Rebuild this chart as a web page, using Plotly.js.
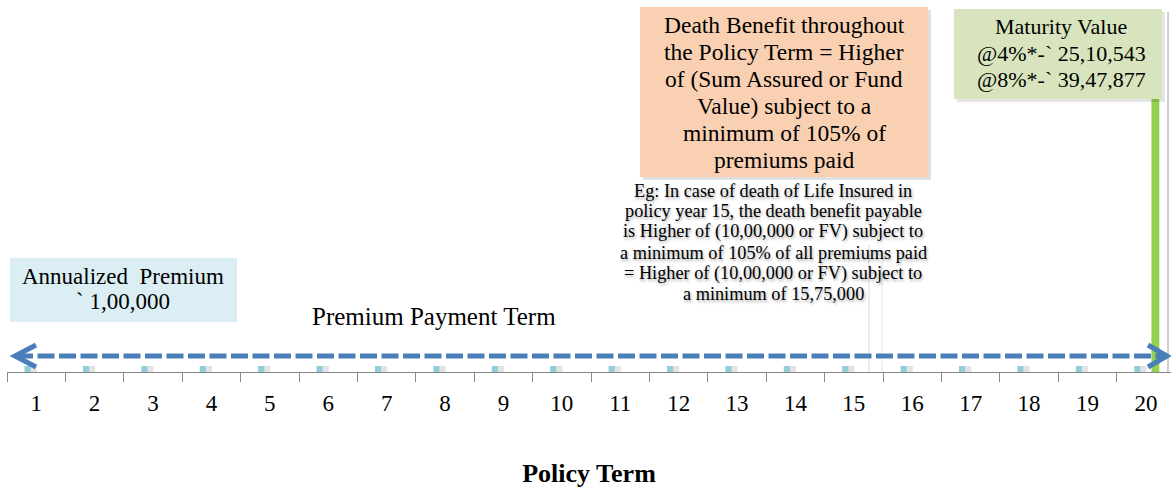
<!DOCTYPE html>
<html>
<head>
<meta charset="utf-8">
<script src="https://cdn.plot.ly/plotly-3.0.1.min.js"></script>
<style>html,body{margin:0;padding:0;background:#fff;}#chart{width:1171px;height:488px;}</style>
</head>
<body>
<div id="chart"></div>
<script>
// ---- data ----
var policyYears = ['1','2','3','4','5','6','7','8','9','10','11','12','13','14','15','16','17','18','19','20'];
var annualPremium = [100000,100000,100000,100000,100000,100000,100000,100000,100000,100000,100000,100000,100000,100000,100000,100000,100000,100000,100000,100000];
var maturityYears = ['20'];
var maturityValue = [6000000];
var axisTitle = 'Policy Term';
var premiumLabel = ['Annualized  Premium', '` 1,00,000'];
var ppTermLabel = 'Premium Payment Term';
var deathBenefitLabel = ['Death Benefit throughout','the Policy Term = Higher','of (Sum Assured or Fund','Value) subject to a','minimum of 105% of','premiums paid'];
var exampleLabel = ['Eg: In case of death of Life Insured in','policy year 15, the death benefit payable','is Higher of (10,00,000 or FV) subject to','a minimum of 105% of all premiums paid','= Higher of (10,00,000 or FV) subject to','a minimum of 15,75,000'];
var maturityLabel = ['Maturity Value','@4%*-` 25,10,543','@8%*-` 39,47,877'];

// ---- geometry helpers (pixel -> paper) ----
var L = 7, R = 0, T = 10, B = 116, WW = 1171, HH = 488;
var PW = WW - L - R, PH = HH - T - B, PB = HH - B;
function px(x){ return (x - L) / PW; }
function py(y){ return (PB - y) / PH; }
var SERIF = 'Liberation Serif';

var annotations = [];
function lines(arr, cx, firstBase, step, size, extra){
  arr.forEach(function(t, i){
    var base = firstBase + i * step;
    var a = {text: t, xref:'paper', yref:'paper', x: px(cx), y: py(base - size*0.34),
      xanchor:'center', yanchor:'middle', showarrow:false, borderpad:0,
      font:{family:SERIF, size:size, color:'#000'}};
    if (extra) for (var k in extra) a.font[k] = extra[k];
    annotations.push(a);
  });
}
lines(premiumLabel, 123, 284, 25.5, 23);
lines([ppTermLabel], 434, 325, 0, 25);
lines(deathBenefitLabel, 784, 33, 27, 23.5);
lines(exampleLabel, 773, 197, 20.6, 18.3, {shadow:'1px 2px 3px rgba(0,0,0,0.35)'});
lines(maturityLabel, 1061, 34, 26.5, 22);

function rect(x0,y0,x1,y1,fill){
  return {type:'rect', xref:'paper', yref:'paper', x0:px(x0), x1:px(x1), y0:py(y1), y1:py(y0),
    fillcolor:fill, line:{width:0}, layer:'above'};
}
function seg(x0,y0,x1,y1,color,w,dash){
  return {type:'line', xref:'paper', yref:'paper', x0:px(x0), x1:px(x1), y0:py(y0), y1:py(y1),
    line:{color:color, width:w, dash:dash||'solid'}, layer:'above'};
}
function chev(xt, yt, xa, h, color, w){
  return {type:'path', xref:'paper', yref:'paper', layer:'above',
    path:'M '+px(xa)+','+py(yt-h)+' L '+px(xt)+','+py(yt)+' L '+px(xa)+','+py(yt+h),
    line:{color:color, width:w}};
}
var shapes = [
  seg(869, 245, 869, 372, '#D9D9D9', 1),
  seg(882, 262, 882, 372, '#E3E3E3', 1),
  seg(1168, 12, 1168, 372, '#CFCFCF', 2),
  rect(643, 10, 931, 180, 'rgba(0,0,0,0.12)'),
  rect(957, 12, 1165, 102, 'rgba(0,0,0,0.10)'),
  rect(10, 258, 237, 322, '#DBEEF4'),
  rect(640, 7, 928, 177, '#FAD0B2'),
  rect(954, 9, 1162, 99, '#D7E4BD'),
  seg(16, 356, 1166, 356, '#4A7EBB', 5, '17px,4.5px'),
  chev(15, 356, 36, 11, '#4A7EBB', 5),
  chev(1167, 356, 1148, 11, '#4A7EBB', 5)
];

var traces = [
  {type:'bar', x:policyYears, y:annualPremium, name:'shadow', width:0.13, offset:-0.12,
   marker:{color:'rgba(0,0,0,0.11)', line:{width:0}}, hoverinfo:'skip', showlegend:false},
  {type:'bar', x:policyYears, y:annualPremium, name:'Annualized Premium', width:0.105, offset:-0.2,
   marker:{color:'#92CDDC', line:{width:0}}, showlegend:false},
  {type:'bar', x:maturityYears, y:maturityValue, name:'Maturity Value', width:0.135, offset:0.095,
   marker:{color:'#92D050', line:{width:0}}, showlegend:false}
];

var layout = {
  width: WW, height: HH,
  margin:{l:L, r:R, t:T, b:B, pad:0},
  paper_bgcolor:'#fff', plot_bgcolor:'#fff',
  barmode:'overlay',
  showlegend:false,
  font:{family:SERIF},
  xaxis:{type:'category', categoryorder:'array', categoryarray:policyYears,
    range:[-0.5, 19.43], autorange:false,
    showline:true, linecolor:'#868686', linewidth:1,
    ticks:'outside', tickson:'boundaries', ticklen:9, tickcolor:'#868686', tickwidth:1,
    showgrid:false, zeroline:false,
    tickfont:{family:SERIF, size:23, color:'#000'},
    ticklabelstandoff: 10,
    title:{text:'<b>' + axisTitle + '</b>', font:{family:SERIF, size:26, color:'#000'}, standoff:52},
    automargin:false, fixedrange:true},
  yaxis:{range:[0, 6000000], autorange:false, visible:false, showgrid:false, zeroline:false, fixedrange:true},
  shapes: shapes,
  annotations: annotations
};
Plotly.newPlot('chart', traces, layout, {displayModeBar:false, staticPlot:true});
</script>
</body>
</html>
